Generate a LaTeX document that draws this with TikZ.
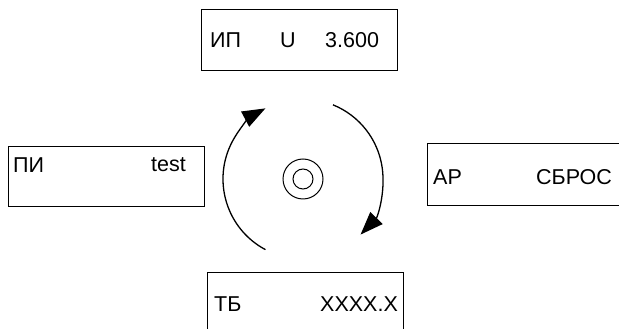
\documentclass[tikz,border=0pt]{standalone}
\usepackage{fontspec}
\setmainfont{Liberation Sans}
\usepackage{tikz}
\usetikzlibrary{calc,arrows.meta}

\tikzset{
  screen/.style={draw, line width=1pt, inner sep=0pt},
  lbl/.style={anchor=west, inner sep=0pt, font=\fontsize{21.5}{25}\selectfont},
  turn/.style={line width=1.3pt, -{Triangle[length=23pt,width=17pt]}}
}

\begin{document}
\begin{tikzpicture}[x=1pt,y=1pt]
                      \useasboundingbox (0,0) rectangle (619,329);
                      \clip (0,0) rectangle (619,329);
                      % screens
                      \node[screen, minimum width=196pt, minimum height=61pt] (ip) at (299.5,288.5) {};
                      \node[screen, minimum width=196pt, minimum height=60pt] (pi) at (106,152) {};
                      \node[screen, minimum width=220pt, minimum height=62pt] (ar) at (537,154) {};
                      \node[screen, minimum width=196pt, minimum height=64pt] (tb) at (305,24) {};
                      % texts
                      \node[lbl] (ipname) at (210,289) {ИП};
                      \node[lbl] (ipu) at (280,289) {U};
                      \node[lbl] (ipval) at (325,289) {3.600};
                      \node[lbl] (piname) at (13,164) {ПИ};
                      \node[lbl] (pival) at (151,164) {test};
                      \node[lbl] (arname) at (433,152) {АР};
                      \node[lbl] (arval) at (536,152) {СБРОС};
                      \node[lbl] (tbname) at (214,25) {ТБ};
                      \node[lbl] (tbval) at (320,25) {XXXX.X};
                      % knob
                      \node[draw, circle, line width=1pt, minimum size=40pt, inner sep=0pt] (knob) at (303,150) {};
                      \node[draw, circle, line width=1pt, minimum size=20pt, inner sep=0pt] (knobin) at (knob) {};
                      \draw[turn] ($(knob.center)+(242:80)$) arc (242:118:80);
                      \draw[turn] ($(knob.center)+(68:80)$) arc (68:-44:80);
                  \end{tikzpicture}
\end{document}
